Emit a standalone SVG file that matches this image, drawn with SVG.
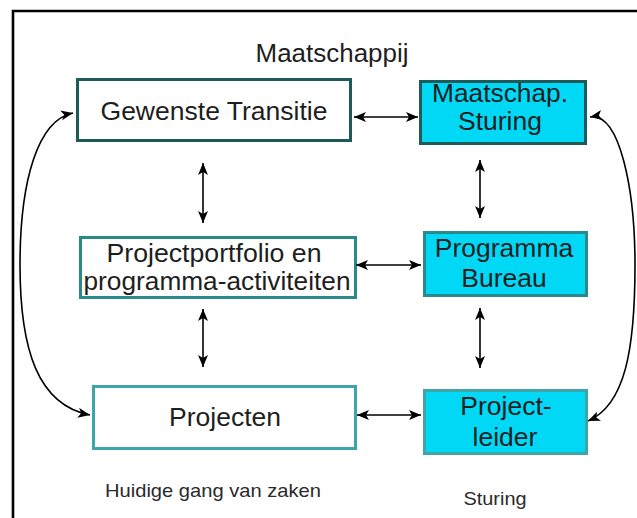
<svg xmlns="http://www.w3.org/2000/svg" width="637" height="518" viewBox="0 0 637 518">
<style>
.t{font-family:"Liberation Sans",Arial,sans-serif;fill:#1e1e1e;text-anchor:middle;font-size:26.5px}
.s{font-family:"Liberation Sans",Arial,sans-serif;fill:#2a2a2a;text-anchor:middle;font-size:19px}
.c{fill:none;stroke:#000;stroke-width:1.6}
.w{fill:#fff;stroke-width:3}
.b{fill:#00d8f6;stroke-width:3}
</style>
<defs>
<marker id="ah" viewBox="0 0 12 10" refX="12" refY="5" markerWidth="12" markerHeight="10" orient="auto-start-reverse" markerUnits="userSpaceOnUse">
<path d="M0,0 L12,5 L0,10 L3,5 z" fill="#000"/>
</marker>
</defs>
<rect width="637" height="518" fill="#fff"/>
<path d="M13,518 V11 H640" fill="none" stroke="#000" stroke-width="2.6"/>
<text class="t" x="332" y="62" font-size="24" textLength="153" lengthAdjust="spacingAndGlyphs">Maatschappij</text>
<g id="gewenste">
<rect class="w" x="77.5" y="79.5" width="273" height="61" stroke="#1d5a5a"/>
<text class="t" x="214" y="120" textLength="227" lengthAdjust="spacingAndGlyphs">Gewenste Transitie</text>
</g>
<g id="maatschap">
<rect class="b" x="420.5" y="81.5" width="165" height="62" stroke="#1d5a5a"/>
<text class="t" x="500" y="102" font-size="21" textLength="136" lengthAdjust="spacingAndGlyphs">Maatschap.</text>
<text class="t" x="500" y="130" font-size="21" textLength="84" lengthAdjust="spacingAndGlyphs">Sturing</text>
</g>
<g id="portfolio">
<rect class="w" x="80.5" y="237.5" width="275" height="60" stroke="#2a8a8a"/>
<text class="t" x="214" y="262" textLength="215" lengthAdjust="spacingAndGlyphs">Projectportfolio en</text>
<text class="t" x="217" y="290" textLength="267" lengthAdjust="spacingAndGlyphs">programma-activiteiten</text>
</g>
<g id="programma">
<rect class="b" x="424.5" y="232.5" width="162" height="63" stroke="#2a8a8a"/>
<text class="t" x="504" y="257">Programma</text>
<text class="t" x="504" y="287">Bureau</text>
</g>
<g id="projecten">
<rect class="w" x="93.5" y="386.5" width="262" height="62" stroke="#3ea6a6"/>
<text class="t" x="225" y="426">Projecten</text>
</g>
<g id="projectleider">
<rect class="b" x="424.5" y="390.5" width="162" height="63" stroke="#3ea6a6"/>
<text class="t" x="506" y="415">Project-</text>
<text class="t" x="505" y="446">leider</text>
</g>
<text class="s" x="213" y="497" textLength="216" lengthAdjust="spacingAndGlyphs">Huidige gang van zaken</text>
<text class="s" x="495" y="505" textLength="63" lengthAdjust="spacingAndGlyphs">Sturing</text>
<g id="connectors">
<line class="c" x1="354" y1="117" x2="418" y2="117" marker-start="url(#ah)" marker-end="url(#ah)"/>
<line class="c" x1="356" y1="265" x2="421" y2="265" marker-start="url(#ah)" marker-end="url(#ah)"/>
<line class="c" x1="357" y1="415" x2="421" y2="415" marker-start="url(#ah)" marker-end="url(#ah)"/>
<line class="c" x1="203" y1="163" x2="203" y2="223" marker-start="url(#ah)" marker-end="url(#ah)"/>
<line class="c" x1="203" y1="309" x2="203" y2="367" marker-start="url(#ah)" marker-end="url(#ah)"/>
<line class="c" x1="480" y1="160" x2="480" y2="218" marker-start="url(#ah)" marker-end="url(#ah)"/>
<line class="c" x1="480" y1="308" x2="480" y2="368" marker-start="url(#ah)" marker-end="url(#ah)"/>
<path class="c" d="M73,113 C38,120 20,180 20,265 C20,350 38,405 90,415" marker-start="url(#ah)" marker-end="url(#ah)"/>
<path class="c" d="M590,117 C620,112 635,190 635,265 C635,350 625,405 588,421" marker-start="url(#ah)" marker-end="url(#ah)"/>
</g>
</svg>
